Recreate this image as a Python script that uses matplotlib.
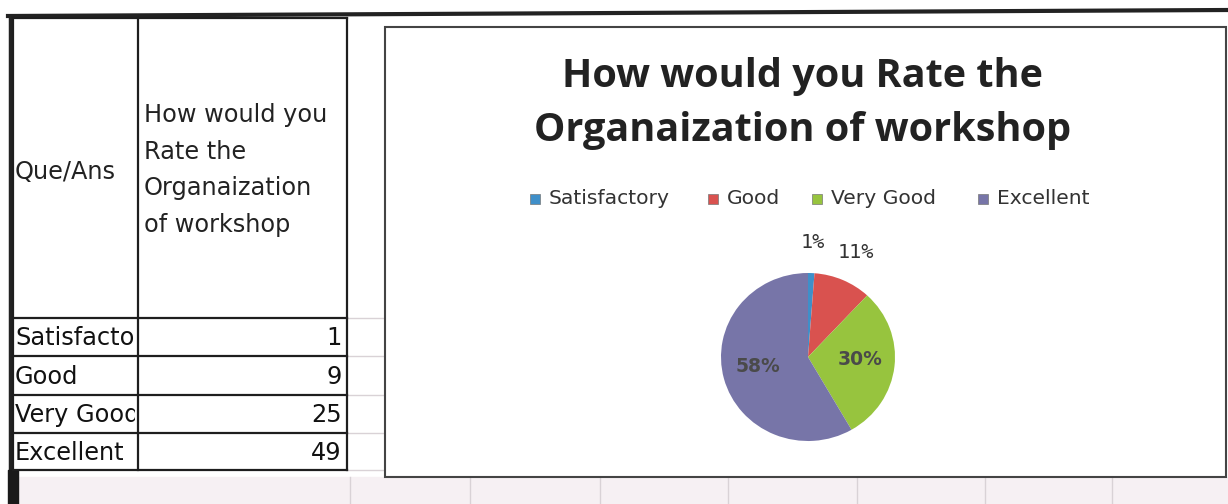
import matplotlib
matplotlib.use("Agg")
import matplotlib.pyplot as plt
import numpy as np

# ---- data ----
categories = ["Satisfactory", "Good", "Very Good", "Excellent"]
table_labels = ["Satisfacto", "Good", "Very Good", "Excellent"]
counts = [1, 9, 25, 49]
question = "How would you\nRate the\nOrganaization\nof workshop"
chart_title = "How would you Rate the\nOrganaization of workshop"
header_left = "Que/Ans"

colors = ["#3f8fc9", "#d9524f", "#97c43e", "#7775a8"]

W, H = 1228, 504
fig = plt.figure(figsize=(W / 100, H / 100), dpi=100)
fig.patch.set_facecolor("white")

bg = fig.add_axes([0, 0, 1, 1])
bg.set_xlim(0, W)
bg.set_ylim(H, 0)
bg.axis("off")

TFONT = "DejaVu Sans"
HFONT = "Open Sans"
grid_c = "#d9d2d6"

# faint spreadsheet grid in background
bg.fill_between([18, W], 477, 504, color="#f6f0f3", zorder=0)
for x in [350, 470, 600, 728, 857, 985, 1112]:
    bg.plot([x, x], [477, 504], color=grid_c, lw=1, zorder=0)
for y in [318, 356, 395, 433, 470]:
    bg.plot([348, 385], [y, y], color=grid_c, lw=1, zorder=0)

# top dark line and left thick border
bg.plot([8, W], [16, 10], color="#222222", lw=3, zorder=3)
bg.plot([10, 10], [16, H], color="#222222", lw=2.5, zorder=3)
bg.fill_between([8, 18], 470, H, color="#1a1a1a", zorder=3)

# ---- table ----
x0, x1, x2 = 13, 138, 347
row_y = [18, 318, 356, 395, 433, 470]
lc = "#1e1e1e"
for y in row_y:
    bg.plot([x0, x2], [y, y], color=lc, lw=1.6, zorder=6)
for x in [x0, x1, x2]:
    bg.plot([x, x], [row_y[0], row_y[-1]], color=lc, lw=1.6, zorder=6)

TS = 17.3
bg.text(x0 + 2, 172, header_left, fontsize=TS, family=TFONT, color="#222222",
        va="center", ha="left", zorder=5)
bg.text(x1 + 6, 170, question, fontsize=TS, family=TFONT, color="#222222",
        va="center", ha="left", linespacing=1.68, zorder=5)
for i, (lab, v) in enumerate(zip(table_labels, counts)):
    yc = (row_y[i + 1] + row_y[i + 2]) / 2 + 1
    t = bg.text(x0 + 2, yc, lab, fontsize=TS, family=TFONT, color="#111111",
                va="center", ha="left", zorder=5, clip_on=True)
    t.set_clip_path(plt.Rectangle((x0, row_y[i + 1]), x1 - x0 - 3, 40,
                                  transform=bg.transData))
    bg.text(x2 - 5, yc, str(v), fontsize=TS, family=TFONT, color="#111111",
            va="center", ha="right", zorder=5)

# ---- chart box ----
bg.add_patch(plt.Rectangle((385, 27), 841, 450, fill=True, facecolor="white",
                           edgecolor="#444444", lw=1.5, zorder=2))

bg.text(803, 103, chart_title, fontsize=28.5, family=HFONT, weight="bold",
        color="#222222", ha="center", va="center", linespacing=1.5, zorder=5)

# legend
leg_x = [535, 713, 817, 983]
for xi, cat, col in zip(leg_x, categories, colors):
    bg.add_patch(plt.Rectangle((xi - 5, 194), 10, 10, facecolor=col,
                               edgecolor="#777777", lw=0.5, zorder=5))
    bg.text(xi + 14, 199, cat, fontsize=14.6, family=TFONT, color="#333333",
            ha="left", va="center", zorder=5)

# ---- pie ----
cx, cy, rx, ry = 808, 357, 87, 84
span = 2.6
pw, ph = rx * span, ry * span
ax = fig.add_axes([(cx - pw / 2) / W, 1 - (cy + ph / 2) / H, pw / W, ph / H])
ax.axis("off")
wedges, _ = ax.pie(counts, colors=colors, startangle=90, counterclock=False,
                   wedgeprops=dict(edgecolor="none"))
ax.set_aspect("auto")
ax.set_xlim(-span / 2, span / 2)
ax.set_ylim(-span / 2, span / 2)

total = sum(counts)
for w, v in zip(wedges, counts):
    pct = 100 * v / total
    mid = np.deg2rad((w.theta1 + w.theta2) / 2)
    if pct < 15:
        r = 1.36
        ax.text(r * np.cos(mid), r * np.sin(mid), f"{pct:.0f}%", fontsize=14.5,
                family="DejaVu Sans Mono", color="#333333", ha="center", va="center")
    else:
        r = 0.6
        ax.text(r * np.cos(mid), r * np.sin(mid) + 0.04, f"{pct:.0f}%", fontsize=13.5,
                family=TFONT, weight="bold", color="#4a4a4a", ha="center", va="center")

fig.savefig("out.png", dpi=100)
